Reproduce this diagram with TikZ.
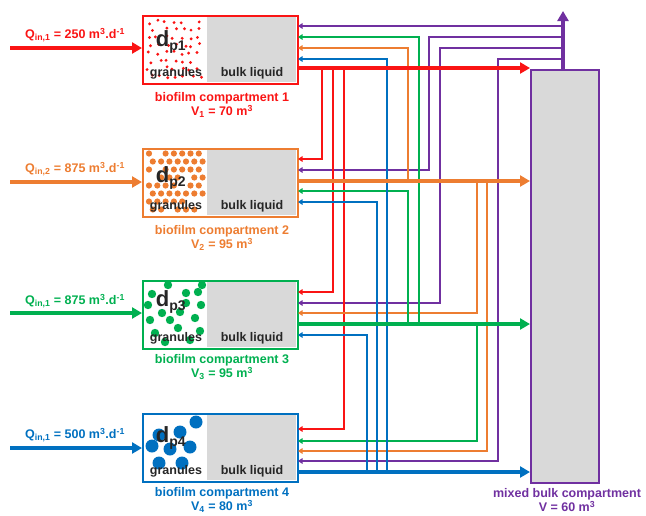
\documentclass[tikz,border=0pt]{standalone}
\usepackage{fontspec}
\setmainfont{Liberation Sans}
\usetikzlibrary{arrows.meta}
\definecolor{cred}{RGB}{250,20,20}
\definecolor{corange}{RGB}{237,125,49}
\definecolor{cgreen}{RGB}{0,176,80}
\definecolor{cblue}{RGB}{0,112,192}
\definecolor{cpurple}{RGB}{112,48,160}
\definecolor{cgrey}{RGB}{217,217,217}
\begin{document}
\begin{tikzpicture}[x=1pt,y=-1pt,
  fb/.style={line width=1.8pt,draw=#1,-{Triangle[length=4.5pt,width=5.5pt]}},
  thickarrow/.style={line width=3.4pt,draw=#1,-{Triangle[length=10pt,width=11pt]}},
  comp/.style={draw=#1,line width=2.2pt,minimum width=155pt,minimum height=68pt,anchor=north west,inner sep=0pt},
  lbl/.style={font=\bfseries\fontsize{12.5}{14.5}\selectfont,text=#1,align=center,inner sep=0pt},
  inner/.style={font=\bfseries\fontsize{12.5}{13}\selectfont,text=black!85,inner sep=0pt},
  dlbl/.style={font=\bfseries\fontsize{22}{22}\selectfont,text=black!85,inner sep=0pt}]
\useasboundingbox (0,0) rectangle (646,515);

% ---------- compartment contents ----------
\foreach \t in {15,148,280,413}{
  \fill[cgrey] (207,\t+1) rectangle (296,\t+67);
}
% box 1 dots (jittered grid)
\pgfmathsetseed{11}
\foreach \j in {0,...,7}{
  \foreach \i in {0,...,6}{
    \pgfmathsetmacro\xx{149+8.2*\i+4*(rnd-0.5)+2.5*mod(\j,2)}
    \pgfmathsetmacro\yy{22+7.8*\j+4*(rnd-0.5)}
    \pgfmathtruncatemacro\keep{rnd<0.85?1:0}
    \ifnum\keep=1 \fill[cred] (\xx,\yy) circle (1.6);\fi
  }
}
% box 2 dots
\pgfmathsetseed{5}
\foreach \j in {0,...,7}{
  \foreach \i in {0,...,6}{
    \pgfmathsetmacro\xx{149+8.3*\i+3.8*mod(\j,2)}
    \pgfmathsetmacro\yy{153.5+8*\j}
    \pgfmathtruncatemacro\keep{rnd<0.75?1:0}
    \ifnum\keep=1 \fill[corange] (\xx,\yy) circle (3.1);\fi
  }
}
% box 3 dots
\foreach \p in {(168,285),(202,285),(152,294),(186,293),(198,292),(148,305),(186,303),(201,305),(162,313),(180,312),(195,318),(150,320),(170,320),(155,333),(178,328),(200,331),(165,342),(190,340)}{
  \fill[cgreen] \p circle (4.2);
}
% box 4 dots
\foreach \p in {(196,422),(159,435),(180,432),(152,446),(170,449),(190,447),(159,463),(182,463)}{
  \fill[cblue] \p circle (6.5);
}
% inner texts
\foreach \t/\n/\dy in {15/1/27,148/2/30,280/3/22,413/4/25}{
  \node[dlbl] (d\n) at (171,\t+\dy) {d\textsubscript{\fontsize{14}{14}\selectfont p\n}};
  \node[inner] (g\n) at (176,\t+58) {granules};
  \node[inner] (l\n) at (252,\t+58) {bulk liquid};
}

% ---------- compartments ----------
\node[comp=cred]    (b1) at (142,15)  {};
\node[comp=corange] (b2) at (142,148) {};
\node[comp=cgreen]  (b3) at (142,280) {};
\node[comp=cblue]   (b4) at (142,413) {};
\node[draw=cpurple,fill=cgrey,line width=2.2pt,minimum width=68pt,minimum height=413pt,anchor=north west,inner sep=0pt] (m) at (530,69) {};

% labels under boxes
\node[lbl=cred]    (t1) at (222,105) {biofilm compartment 1\\V\textsubscript{1} = 70 m\textsuperscript{3}};
\node[lbl=corange] (t2) at (222,238) {biofilm compartment 2\\V\textsubscript{2} = 95 m\textsuperscript{3}};
\node[lbl=cgreen]  (t3) at (222,367) {biofilm compartment 3\\V\textsubscript{3} = 95 m\textsuperscript{3}};
\node[lbl=cblue]   (t4) at (222,500) {biofilm compartment 4\\V\textsubscript{4} = 80 m\textsuperscript{3}};
\node[lbl=cpurple] (tm) at (567,500) {mixed bulk compartment\\V = 60 m\textsuperscript{3}};

% inflows
\coordinate (i1) at (10,48);
\coordinate (i2) at (10,182);
\coordinate (i3) at (10,313);
\coordinate (i4) at (10,448);
\draw[thickarrow=cred]    (i1) -- (b1.west |- i1);
\draw[thickarrow=corange] (i2) -- (b2.west |- i2);
\draw[thickarrow=cgreen]  (i3) -- (b3.west |- i3);
\draw[thickarrow=cblue]   (i4) -- (b4.west |- i4);
\node[lbl=cred]    (q1) at (75,35)  {Q\textsubscript{in,1} = 250 m\textsuperscript{3}.d\textsuperscript{-1}};
\node[lbl=corange] (q2) at (75,169) {Q\textsubscript{in,2} = 875 m\textsuperscript{3}.d\textsuperscript{-1}};
\node[lbl=cgreen]  (q3) at (75,301) {Q\textsubscript{in,1} = 875 m\textsuperscript{3}.d\textsuperscript{-1}};
\node[lbl=cblue]   (q4) at (75,435) {Q\textsubscript{in,1} = 500 m\textsuperscript{3}.d\textsuperscript{-1}};

% ---------- recirculation lines ----------
% purple from mixed compartment
\draw[fb=cpurple] (563,26) -- (298,26);
\draw[fb=cpurple] (563,37) -- (429,37) -- (429,170) -- (298,170);
\draw[fb=cpurple] (563,48) -- (440,48) -- (440,303) -- (298,303);
\draw[fb=cpurple] (563,59) -- (498,59) -- (498,461) -- (298,461);
% red from compartment 1
\draw[fb=cred] (322,68) -- (322,159) -- (298,159);
\draw[fb=cred] (333,68) -- (333,292) -- (298,292);
\draw[fb=cred] (344,68) -- (344,429) -- (298,429);
% orange from compartment 2
\draw[fb=corange] (408,181) -- (408,48) -- (298,48);
\draw[fb=corange] (477,181) -- (477,313) -- (298,313);
\draw[fb=corange] (487,181) -- (487,451) -- (298,451);
% green from compartment 3
\draw[fb=cgreen] (419,324) -- (419,37) -- (298,37);
\draw[fb=cgreen] (408,324) -- (408,191) -- (298,191);
\draw[fb=cgreen] (477,324) -- (477,441) -- (298,441);
% blue from compartment 4
\draw[fb=cblue] (387,472) -- (387,59) -- (298,59);
\draw[fb=cblue] (377,472) -- (377,202) -- (298,202);
\draw[fb=cblue] (367,472) -- (367,335) -- (298,335);

% ---------- main outflows ----------
\coordinate (o1) at (297,68);
\coordinate (o2) at (297,181);
\coordinate (o3) at (297,324);
\coordinate (o4) at (297,472);
\draw[thickarrow=cred]    (o1) -- (m.west |- o1);
\draw[thickarrow=corange] (o2) -- (m.west |- o2);
\draw[thickarrow=cgreen]  (o3) -- (m.west |- o3);
\draw[thickarrow=cblue]   (o4) -- (m.west |- o4);
\coordinate (top) at (563,11);
\draw[thickarrow=cpurple] (m.north -| top) -- (top);
\end{tikzpicture}
\end{document}
